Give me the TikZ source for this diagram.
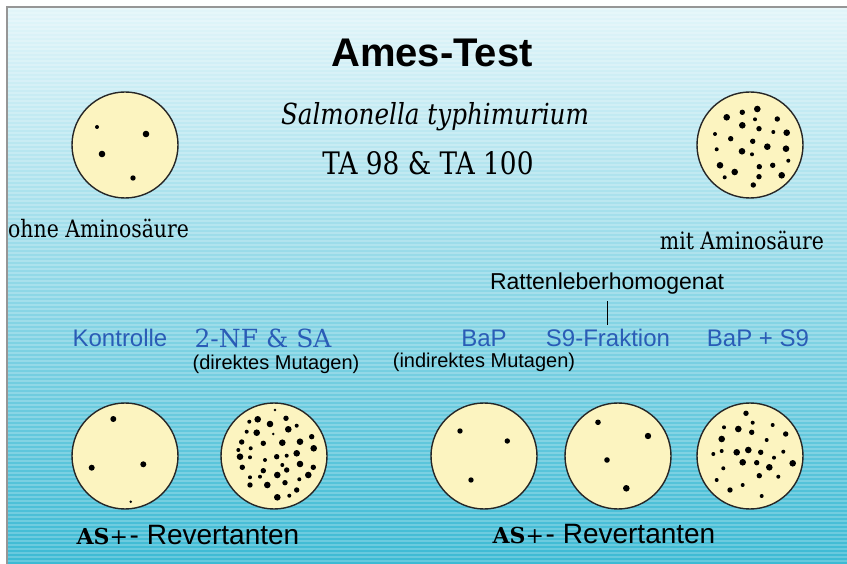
\documentclass[tikz,border=0pt]{standalone}
\usepackage{fontspec}
\setmainfont{DejaVu Serif}
\setsansfont{Liberation Sans}
\newfontfamily\slimserif[FakeStretch=0.85]{DejaVu Serif}
\usetikzlibrary{positioning,calc}
\definecolor{platecream}{RGB}{252,244,192}
\definecolor{labelblue}{RGB}{42,92,182}
\definecolor{skytop}{RGB}{228,246,250}
\definecolor{skymid}{RGB}{150,216,230}
\definecolor{skybottom}{RGB}{60,186,212}
\definecolor{framegray}{RGB}{150,150,150}
\tikzset{
  plate/.style={circle, draw=black!85, line width=1.4pt, fill=platecream, minimum size=106pt, inner sep=0pt},
  agent/.style={font=\sffamily\fontsize{24}{24}\selectfont, text=labelblue, inner sep=1pt},
  agentserif/.style={font=\fontsize{25}{25}\selectfont, text=labelblue, inner sep=1pt},
  note/.style={font=\sffamily\fontsize{20}{20}\selectfont, inner sep=1pt},
  medium/.style={font=\slimserif\fontsize{24}{24}\selectfont, inner sep=1pt},
  revlabel/.style={inner sep=1pt}
}
\newcommand\colonies[2]{\foreach \dx/\dy/\r in {#2} \fill[black] ($(#1)+(\dx,\dy)$) circle (\r pt);}
\newcommand\revtext{{\fontsize{22}{22}\selectfont\textbf{AS}+}\,{\sffamily\fontsize{28}{28}\selectfont- Revertanten}}

\begin{document}
\begin{tikzpicture}[x=1pt,y=-1pt]
  \useasboundingbox (0,0) rectangle (847,564);
  % background
  \shade[top color=skytop, middle color=skymid, bottom color=skybottom] (0,0) rectangle (847,564);
  \foreach \i in {0,...,141}
    \fill[white, opacity=0.22] (0,{\i*4}) rectangle (847,{\i*4+1.6});
  \fill[white] (0,0) rectangle (847,6);
  \fill[white] (0,0) rectangle (6,564);
  \draw[framegray, line width=2pt] (7,564) -- (7,7) -- (847,7);

  % header
  \node[font=\sffamily\bfseries\fontsize{40}{40}\selectfont] (title) at (432,53) {Ames-Test};
  \node[font=\slimserif\itshape\fontsize{29}{29}\selectfont] (strain) at (435,117) {Salmonella typhimurium};
  \node[font=\slimserif\fontsize{31}{31}\selectfont] (ta) at (428,163) {TA 98 \& TA 100};

  % plates without / with amino acid
  \node[plate] (pohne) at (125,145) {};
  \colonies{pohne}{-28/-18/2, 21/-11/3.3, -23/9/3.3, 8/33/2.7}
  \node[medium, anchor=west] (ohne) at (7,228) {ohne Aminosäure};
  \node[plate] (pmit) at (750,145) {};
  \colonies{pmit}{7.3/-36/3.3, -7.7/-32.7/2.7, -23.3/-27.7/3.3, 27.3/-26/2.7, 5/-25.7/2,
    -7.7/-19.7/3.3, 9/-16.3/2.7, 23.3/-13/2, 36.7/-12.3/3.3, -35/-11/2, -19.3/-6.3/2.7,
    2.7/-3.7/2.7, 17.3/1.7/3.3, -33.3/4.3/2, -8/6.3/3.3, 2/9.3/2, 36/3.7/3.3, 38.3/15.7/2,
    -30/20.3/3.3, 9.3/21.7/2.7, 22.7/20.3/2.7, -15.3/27/3.3, 9/31.7/2.7, 31.7/30.3/3.3,
    -25.3/32.3/2, 3.3/40/2.7}
  \node[medium] (mit) at (742,240) {mit Aminosäure};

  % substances
  \node[font=\sffamily\fontsize{23}{23}\selectfont] (ratten) at (607,284) {Rattenleberhomogenat};
  \node[agent] (kontrolle) at (120,338) {Kontrolle};
  \node[agentserif] (nfsa) at (263,338) {2-NF \& SA};
  \node[agent] (bap) at (484,338) {BaP};
  \node[agent] (s9) at (608,338) {S9-Fraktion};
  \node[agent] (baps9) at (758,338) {BaP + S9};
  \draw[line width=1pt, shorten <=3pt, shorten >=3pt] (ratten.south) -- (ratten.south |- s9.north);
  \node[note] (direkt) at (276,364) {(direktes Mutagen)};
  \node[note] (indirekt) at (484,362) {(indirektes Mutagen)};

  % revertant plates
  \node[plate] (p1) at (125,456) {};
  \colonies{p1}{-11.7/-37/3, -33.3/11.7/3, 18.3/8.3/3, 5.7/45.7/1.4}
  \node[plate] (p2) at (274,456) {};
  \colonies{p2}{1/-46/1.4, -16.3/-36.7/3.3, -24.7/-34.3/2, -4/-32/3.3, 12/-37.7/2.7,
    22.7/-30.3/2, -27.3/-24.3/2, -17.3/-23.3/3.3, 14.3/-26.7/3.3, -0.7/-22/1.4,
    37.7/-19.3/2.7, -32.3/-14/2.7, -10.7/-12.7/2.7, 8.3/-13.3/3.3, 26/-14.3/3.3,
    -23.3/-7.7/2, -35.7/-6/2, 39.7/-7.7/3.3, -34/0.7/3.3, 2.7/0.7/2.7, 12.7/-0.3/2,
    22.7/-2.7/3.3, -9/4/2, -24/1.3/2, -31.7/11.3/2.7, -10.7/14.7/2.7, 8.3/9/2,
    26/8/3.3, 39.3/11.3/2.7, 12.7/14/2.7, -24/21.3/2, -14/20.7/2, 3.3/19/3.3,
    34.3/19/3.3, 25.3/23.3/2, -24/29/2.7, -6.7/29/3.3, 11/26.7/2.7, 22.7/34/2.7,
    3.3/41.3/3.3, 15.3/39.7/2}
  \node[plate] (p3) at (484,456) {};
  \colonies{p3}{-24/-25/2.7, 23.3/-15/2.7, -13/24/2.7}
  \node[plate] (p4) at (618,456) {};
  \colonies{p4}{-20/-33.7/2.8, 30/-20/3.2, -11/4/2.8, 8.3/32.3/3.3}
  \node[plate] (p5) at (750,456) {};
  \colonies{p5}{-4/-42.7/2.7, -26/-28.7/2, -11.7/-27/3.3, 2.7/-33.3/2, 1.7/-23.7/2.7,
    22.7/-31/2, 35.7/-22/2.7, -28.3/-17/3.3, 16.7/-16/2, -36.7/-2/2, -28.3/-5/2,
    -13.3/-3.7/3.3, -1.7/-6/3.3, 10.7/-3.7/2.7, 33.3/-4.3/2, 24/1.7/2, -7.3/6.3/3.3,
    6.7/6.7/2.7, 19.3/11.3/3.3, 42.7/7.3/3.3, -26.7/12.3/2, 9.3/19.7/2.7, 28.3/20.7/2,
    -33.3/24/2, -7.3/29/2, -20/34/2.7, 11.7/40/2}
  \node[revlabel] (revleft) at (188,535) {\revtext};
  \node[revlabel] (revright) at (604,534) {\revtext};
\end{tikzpicture}
\end{document}
